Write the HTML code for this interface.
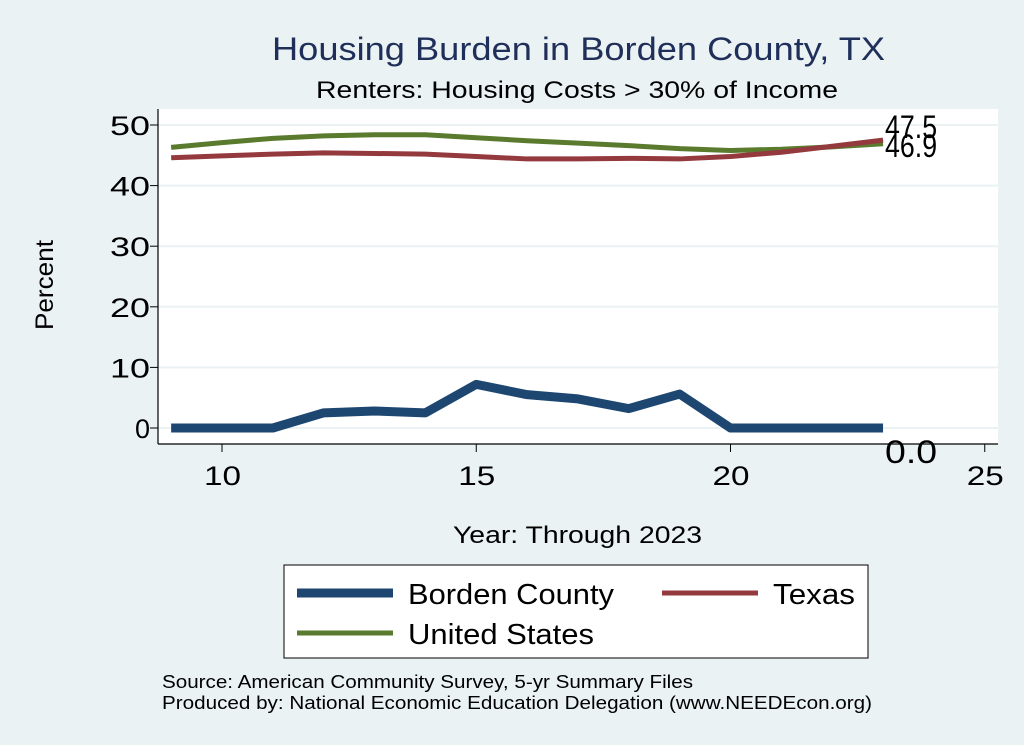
<!DOCTYPE html>
<html><head><meta charset="utf-8"><style>
body{margin:0;background:#eaf2f3;font-family:"Liberation Sans",sans-serif;}
svg{display:block}
</style></head><body>
<svg width="1024" height="745">
<rect x="0" y="0" width="1024" height="745" fill="#eaf2f3"/>
<rect x="158" y="109" width="840" height="335" fill="#ffffff"/>
<text x="272" y="60" font-size="32" textLength="613" lengthAdjust="spacingAndGlyphs" fill="#1f2f5a">Housing Burden in Borden County, TX</text>
<text x="316" y="98" font-size="24" textLength="522" lengthAdjust="spacingAndGlyphs" fill="#000">Renters: Housing Costs &gt; 30% of Income</text>
<g id="grid"></g>
<g id="axes"></g>
<g id="series"></g>
<text x="53" y="285" text-anchor="middle" font-size="25" textLength="90" lengthAdjust="spacingAndGlyphs" transform="rotate(-90 53 285)">Percent</text>
<text x="453" y="543" font-size="24" textLength="249" lengthAdjust="spacingAndGlyphs">Year: Through 2023</text>
<g>
<rect x="284" y="565" width="584" height="93" fill="#fff" stroke="#000" stroke-width="1"/>
<line x1="297" y1="593" x2="393" y2="593" stroke="#1d4670" stroke-width="9"/>
<text x="408" y="604" font-size="29" textLength="206" lengthAdjust="spacingAndGlyphs">Borden County</text>
<line x1="662" y1="593" x2="758" y2="593" stroke="#943a3e" stroke-width="5"/>
<text x="773" y="604" font-size="29" textLength="82" lengthAdjust="spacingAndGlyphs">Texas</text>
<line x1="297" y1="633" x2="393" y2="633" stroke="#5a7a2e" stroke-width="5"/>
<text x="408" y="644" font-size="29" textLength="186" lengthAdjust="spacingAndGlyphs">United States</text>
</g>
<text x="162" y="688" font-size="18" textLength="531" lengthAdjust="spacingAndGlyphs">Source: American Community Survey, 5-yr Summary Files</text>
<text x="162" y="709" font-size="18" textLength="710" lengthAdjust="spacingAndGlyphs">Produced by: National Economic Education Delegation (www.NEEDEcon.org)</text>
</svg>
<script>
const years=[9,10,11,12,13,14,15,16,17,18,19,20,21,22,23];
const borden=[0,0,0,2.5,2.8,2.5,7.2,5.5,4.8,3.2,5.6,0,0,0,0];
const texas=[44.6,44.9,45.2,45.4,45.3,45.2,44.8,44.4,44.4,44.5,44.4,44.8,45.5,46.5,47.5];
const us=[46.3,47.1,47.8,48.2,48.4,48.4,47.9,47.4,47.0,46.6,46.1,45.8,46.0,46.4,46.9];
const yTicks=[0,10,20,30,40,50];
const xTicks=[10,15,20,25];
const NS="http://www.w3.org/2000/svg";
const xs=v=>222+(v-10)*50.85;
const ys=v=>428-v*6.06;
function mk(tag,attrs,parent){const e=document.createElementNS(NS,tag);for(const k in attrs)e.setAttribute(k,attrs[k]);document.getElementById(parent).appendChild(e);return e;}
yTicks.forEach(t=>{
 const g=mk('line',{x1:158,x2:998,y1:ys(t),y2:ys(t),stroke:'#eaf2f3','stroke-width':2},'grid');
 
 
 const tk=mk('line',{x1:150,x2:158,y1:ys(t),y2:ys(t),stroke:'#000','stroke-width':1},'axes');
 
 
 const attrs={x:150,y:ys(t)+10,'text-anchor':'end','font-size':27};
 if(String(t).length===2){attrs.textLength=40;attrs.lengthAdjust='spacingAndGlyphs';}
 const l=mk('text',attrs,'axes');
 l.textContent=t;
 
 
});
xTicks.forEach(t=>{
 const tk=mk('line',{x1:xs(t),x2:xs(t),y1:444,y2:452,stroke:'#000','stroke-width':1},'axes');
 
 
 const l=mk('text',{x:xs(t)-18,y:485,'font-size':27,textLength:37,lengthAdjust:'spacingAndGlyphs'},'axes');
 l.textContent=t;
 
 
});
const ya=mk('line',{x1:158,x2:158,y1:109,y2:444,stroke:'#000','stroke-width':1.2},'axes');


const xa=mk('line',{x1:158,x2:998,y1:444,y2:444,stroke:'#000','stroke-width':1.2},'axes');


function series(vals,color,w,name,labelDy){
 const pts=years.map((y,i)=>xs(y)+','+ys(vals[i])).join(' ');
 const p=mk('polyline',{points:pts,fill:'none',stroke:color,'stroke-width':w,'stroke-linejoin':'round'},'series');
 
 
 const last=vals[vals.length-1];
 const t=mk('text',{x:xs(years[years.length-1])+2,y:ys(last)+labelDy,'font-size':32,textLength:52,lengthAdjust:'spacingAndGlyphs'},'series');
 t.textContent=last.toFixed(1);
 
 
}
series(us,'#5a7a2e',5,'us',13);
series(texas,'#943a3e',5,'texas',-2);
series(borden,'#1d4670',9,'borden',35);
</script>
</body></html>
